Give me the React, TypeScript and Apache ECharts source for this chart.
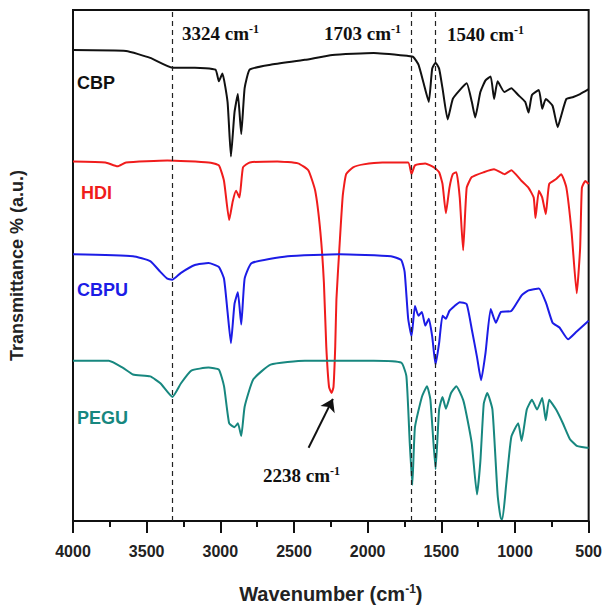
import React, { useEffect, useRef } from 'react';
import * as echarts from 'echarts';

// [wavenumber (cm-1), offset transmittance (a.u.)]
const CBP: [number, number][] = [
  [4000, 482], [3640, 481], [3476, 474], [3325, 464], [3173, 464], [3033, 462], [3010, 450], [2986, 458],
  [2951, 429], [2928, 373], [2904, 418], [2881, 437], [2858, 396], [2835, 443], [2800, 462], [2659, 467],
  [2426, 472], [2239, 477], [1959, 479], [1725, 476], [1690, 475], [1655, 467], [1620, 448], [1585, 429],
  [1562, 463], [1539, 469], [1515, 463], [1492, 443], [1457, 411], [1422, 432], [1375, 441], [1328, 448],
  [1293, 429], [1270, 413], [1235, 439], [1200, 451], [1165, 455], [1142, 432], [1118, 450], [1072, 439],
  [1025, 443], [978, 436], [931, 429], [908, 418], [885, 436], [838, 441], [815, 422], [791, 432],
  [745, 425], [710, 403], [686, 415], [651, 432], [604, 434], [558, 437], [500, 442],
];

const HDI: [number, number][] = [
  [4000, 368], [3780, 367], [3698, 363], [3640, 367], [3360, 369], [3080, 367], [3010, 364], [2975, 348],
  [2940, 308], [2916, 327], [2893, 338], [2870, 331], [2846, 362], [2800, 367], [2613, 368], [2473, 366],
  [2403, 359], [2356, 338], [2321, 296], [2297, 244], [2281, 179], [2262, 137], [2245, 131], [2232, 137],
  [2220, 179], [2212, 227], [2192, 279], [2169, 333], [2146, 355], [2099, 362], [2029, 365], [1900, 367],
  [1725, 367], [1702, 355], [1679, 364], [1609, 366], [1550, 362], [1515, 357], [1492, 345], [1469, 315],
  [1445, 341], [1422, 355], [1398, 357], [1375, 331], [1352, 277], [1328, 341], [1293, 352], [1212, 357],
  [1142, 360], [1072, 355], [1025, 359], [955, 348], [908, 341], [873, 331], [861, 310], [838, 338],
  [815, 331], [791, 314], [768, 345], [721, 350], [686, 355], [651, 341], [616, 296], [581, 233],
  [558, 279], [546, 341], [523, 348], [500, 345],
];

const CBPU: [number, number][] = [
  [4000, 273], [3593, 271], [3476, 266], [3407, 255], [3360, 248], [3325, 247], [3267, 254], [3173, 262],
  [3080, 264], [3010, 260], [2975, 248], [2951, 214], [2928, 182], [2904, 222], [2881, 234], [2858, 201],
  [2835, 248], [2788, 264], [2543, 271], [2192, 273], [1842, 271], [1772, 267], [1749, 255], [1725, 207],
  [1702, 189], [1679, 220], [1655, 210], [1632, 214], [1609, 200], [1585, 207], [1562, 189], [1539, 160],
  [1515, 182], [1492, 210], [1469, 207], [1445, 215], [1410, 220], [1375, 224], [1328, 222], [1293, 196],
  [1258, 168], [1230, 144], [1200, 172], [1165, 217], [1130, 203], [1095, 214], [1025, 215], [955, 231],
  [908, 236], [838, 238], [791, 224], [745, 203], [698, 198], [640, 186], [581, 194], [500, 205],
];

const PEGU: [number, number][] = [
  [4000, 164], [3757, 164], [3663, 157], [3593, 150], [3476, 148], [3407, 141], [3325, 127], [3267, 141],
  [3197, 154], [3080, 157], [3010, 155], [2975, 138], [2940, 100], [2904, 96], [2881, 100], [2858, 87],
  [2835, 117], [2776, 145], [2659, 160], [2426, 164], [1959, 164], [1772, 162], [1737, 148], [1714, 79],
  [1697, 37], [1679, 96], [1632, 127], [1597, 138], [1574, 124], [1539, 53], [1515, 114], [1492, 127],
  [1469, 115], [1434, 131], [1398, 138], [1352, 124], [1328, 108], [1293, 79], [1258, 27], [1235, 61],
  [1212, 120], [1188, 131], [1153, 114], [1118, 27], [1095, 2], [1085, 2], [1060, 37], [1025, 86],
  [978, 100], [955, 82], [920, 114], [885, 124], [850, 114], [815, 126], [791, 103], [768, 124],
  [721, 114], [675, 100], [628, 84], [581, 77], [511, 75], [500, 75],
];

const SERIES_NAMES = ['CBP', 'HDI', 'CBPU', 'PEGU'];
const SERIES_COLORS = ['#111111', '#f01c1c', '#1c1ce6', '#17877f'];
const SERIES_DATA = [CBP, HDI, CBPU, PEGU];
const SERIES_LABEL_POS: [number, number][] = [[77, 83], [81, 193], [77, 290], [77, 418]];

const PEAK_LINES = [3324, 1703, 1540];
const PEAK_LABELS = ['3324', '1703', '1540'];
const PEAK_LABEL_POS: [number, number][] = [[182, 33], [324, 33], [447, 34]];
const ARROW_FROM: [number, number] = [2401, 75];
const ARROW_TO: [number, number] = [2236, 125];
const ARROW_LABEL = '2238';
const ARROW_LABEL_POS: [number, number] = [263, 475];

const SANS = '"Liberation Sans", Arial, sans-serif';
const SERIF = '"Liberation Serif", "Times New Roman", serif';

export default function App() {
  const ref = useRef<HTMLDivElement>(null);
  useEffect(() => {
    document.body.style.margin = '0';
    const chart = echarts.init(ref.current!, undefined, { renderer: 'svg' });
    const supRich = {
      n: { fontSize: 19, fontWeight: 'bold', fontFamily: SERIF, fill: '#111', lineHeight: 20 },
      s: { fontSize: 12, fontWeight: 'bold', fontFamily: SERIF, fill: '#111', lineHeight: 20, verticalAlign: 'top' },
    };
    const graphics: any[] = [];
    SERIES_NAMES.forEach((n, i) => {
      graphics.push({
        type: 'text', x: SERIES_LABEL_POS[i][0], y: SERIES_LABEL_POS[i][1],
        style: { text: n, fill: SERIES_COLORS[i], fontSize: 18, fontWeight: 'bold', fontFamily: SANS, verticalAlign: 'middle', align: 'left' },
      });
    });
    PEAK_LABELS.forEach((t, i) => {
      graphics.push({
        type: 'text', x: PEAK_LABEL_POS[i][0], y: PEAK_LABEL_POS[i][1],
        style: { text: `{n|${t} cm}{s|-1}`, rich: supRich, verticalAlign: 'middle', align: 'left' },
      });
    });
    graphics.push({
      type: 'text', x: ARROW_LABEL_POS[0], y: ARROW_LABEL_POS[1],
      style: { text: `{n|${ARROW_LABEL} cm}{s|-1}`, rich: supRich, verticalAlign: 'middle', align: 'left' },
    });

    chart.setOption({
      animation: false,
      grid: { left: 69, top: 10, right: 15, bottom: 76, show: true, borderColor: '#111', borderWidth: 2 },
      xAxis: {
        type: 'value', min: 500, max: 4000, interval: 500, inverse: true,
        name: 'Wavenumber (cm{s|-1})', nameLocation: 'middle', nameGap: 62,
        nameTextStyle: {
          fontSize: 20, fontWeight: 'bold', fontFamily: SANS, color: '#222',
          rich: { s: { fontSize: 12, fontWeight: 'bold', fontFamily: SANS, color: '#222', verticalAlign: 'top', lineHeight: 22 } },
        },
        axisLine: { show: true, lineStyle: { color: '#111', width: 2 } },
        axisTick: { show: true, inside: false, length: 12, lineStyle: { color: '#111', width: 2 } },
        minorTick: { show: true, splitNumber: 2, length: 6, lineStyle: { color: '#111', width: 2 } },
        splitLine: { show: false },
        axisLabel: {
          margin: 22, fontSize: 16, fontWeight: 'bold', fontFamily: SANS, color: '#222',
          formatter: (v: number) => String(v),
        },
      },
      yAxis: {
        type: 'value', min: 0, max: 523,
        name: 'Transmittance % (a.u.)', nameLocation: 'middle', nameGap: 47,
        nameTextStyle: { fontSize: 18, fontWeight: 'bold', fontFamily: SANS, color: '#222' },
        axisLine: { show: true, lineStyle: { color: '#111', width: 2 } },
        axisTick: { show: false }, axisLabel: { show: false }, splitLine: { show: false },
      },
      graphic: graphics,
      series: SERIES_NAMES.map((n, i) => {
        const s: any = {
          name: n, type: 'line', data: SERIES_DATA[i], showSymbol: false, symbol: 'none', smooth: 0.15,
          lineStyle: { color: SERIES_COLORS[i], width: 2 }, itemStyle: { color: SERIES_COLORS[i] },
          z: 3,
        };
        if (i === 0) {
          s.markLine = {
            silent: true, symbol: 'none', label: { show: false },
            lineStyle: { type: [5, 4], color: '#222', width: 1.2 },
            data: PEAK_LINES.map((x) => ({ xAxis: x })),
          };
        }
        if (i === 1) {
          s.markLine = {
            silent: true, symbol: ['none', 'arrow'], symbolSize: 12, label: { show: false },
            lineStyle: { type: 'solid', color: '#111', width: 2 },
            data: [[{ coord: ARROW_FROM }, { coord: ARROW_TO }]],
          };
        }
        return s;
      }),
    });
    return () => chart.dispose();
  }, []);
  return <div ref={ref} style={{ width: 605, height: 609 }} />;
}
